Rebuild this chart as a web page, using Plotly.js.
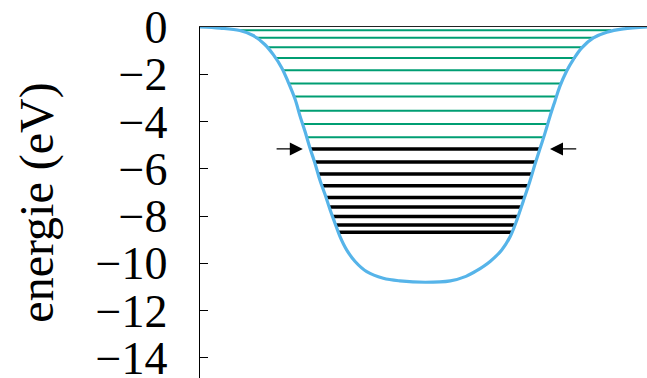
<!DOCTYPE html>
<html>
<head>
<meta charset="utf-8">
<script src="https://cdn.plot.ly/plotly-3.0.1.min.js"></script>
<style>
  html, body { margin: 0; padding: 0; background: white; overflow: hidden; }
</style>
</head>
<body>
<div id="well_plot" style="width:647px;height:378px;"></div>
<script>
// Potential well profile (position, energy in eV)
let wellX = [0.00, 0.45, 0.89, 1.19, 1.45, 1.64, 1.83, 1.98, 2.13, 2.24, 2.35, 2.46,
  2.57, 2.68, 2.80, 2.91, 3.02, 3.13, 3.28, 3.47, 3.73, 4.10, 4.47, 5.04,
  5.60, 5.95, 6.19, 6.49, 6.75, 6.94, 7.09, 7.23, 7.38, 7.49, 7.61, 7.72,
  7.83, 7.94, 8.05, 8.20, 8.35, 8.54, 8.80, 9.10, 9.47, 10.00];
let wellE = [0.00, -0.05, -0.15, -0.36, -0.74, -1.17, -1.73, -2.36, -3.07, -3.78, -4.42, -5.12,
  -5.75, -6.46, -7.10, -7.73, -8.30, -8.86, -9.43, -9.92, -10.35, -10.63, -10.74, -10.80,
  -10.74, -10.55, -10.31, -9.92, -9.43, -8.86, -8.16, -7.38, -6.53, -5.83, -5.12, -4.48,
  -3.78, -3.14, -2.51, -1.87, -1.38, -0.88, -0.46, -0.22, -0.08, 0.00];

// Empty levels (green)
let greenE = [-0.14, -0.46, -0.86, -1.31, -1.83, -2.39, -2.94, -3.54, -4.10, -4.66];
let greenLeft = [0.88, 1.24, 1.50, 1.70, 1.86, 1.99, 2.10, 2.20, 2.30, 2.39];
let greenRight = [9.20, 8.80, 8.56, 8.40, 8.22, 8.08, 7.99, 7.89, 7.79, 7.69];

// Filled levels (black)
let blackE = [-5.16, -5.71, -6.22, -6.72, -7.21, -7.62, -8.02, -8.38, -8.68];
let blackLeft = [2.47, 2.56, 2.64, 2.72, 2.82, 2.89, 2.97, 3.04, 3.10];
let blackRight = [7.61, 7.51, 7.42, 7.35, 7.25, 7.18, 7.12, 7.04, 6.99];

// Arrows pointing at the highest filled level
let arrowE = -5.16;
let arrowTips = [2.30, 7.83];
let arrowTails = [1.68, 8.45];

let yTicks = [0, -2, -4, -6, -8, -10, -12, -14];

let serif = "Liberation Serif, Times New Roman, serif";

// Turn a list of levels into one line trace with gaps between the segments
function levelTrace(energies, lefts, rights, color, width) {
  let xs = [];
  let ys = [];
  for (let i = 0; i < energies.length; i++) {
    xs.push(lefts[i], rights[i], null);
    ys.push(energies[i], energies[i], null);
  }
  return {
    x: xs,
    y: ys,
    type: "scatter",
    mode: "lines",
    line: { color: color, width: width },
    hoverinfo: "skip",
    showlegend: false
  };
}

let greenTrace = levelTrace(greenE, greenLeft, greenRight, "#009E73", 2);
let blackTrace = levelTrace(blackE, blackLeft, blackRight, "black", 3.5);

let wellTrace = {
  x: wellX,
  y: wellE,
  type: "scatter",
  mode: "lines",
  line: { color: "#56B4E9", width: 3.2, shape: "spline", smoothing: 1 },
  showlegend: false
};

let yRange = [-14.85, 0];

let arrows = arrowTips.map((tip, i) => ({
  x: tip, y: arrowE,
  ax: arrowTails[i], ay: arrowE,
  xref: "x", yref: "y", axref: "x", ayref: "y",
  text: "",
  showarrow: true,
  arrowhead: 2,
  arrowsize: 2,
  arrowwidth: 1.3,
  arrowcolor: "black",
  standoff: 0
}));

let layout = {
  width: 647,
  height: 378,
  margin: { l: 200, r: 0, t: 27, b: 0 },
  paper_bgcolor: "white",
  plot_bgcolor: "white",
  showlegend: false,
  font: { family: serif, color: "black" },
  xaxis: {
    range: [0, 10],
    side: "top",
    showline: true,
    linecolor: "#222",
    linewidth: 1,
    showgrid: false,
    zeroline: false,
    showticklabels: false,
    ticks: ""
  },
  yaxis: {
    range: yRange,
    tickmode: "array",
    tickvals: yTicks,
    ticks: "inside",
    ticklen: 8,
    tickwidth: 1,
    tickcolor: "black",
    showline: true,
    linecolor: "black",
    linewidth: 1.3,
    showgrid: false,
    zeroline: false,
    ticklabelstandoff: 22,
    ticklabeloverflow: "allow",
    tickfont: { family: serif, size: 46, color: "black" },
    title: {
      text: "energie (eV)",
      font: { family: serif, size: 48, color: "black" },
      standoff: 26
    }
  },
  yaxis2: {
    range: yRange,
    overlaying: "y",
    side: "right",
    tickmode: "array",
    tickvals: yTicks,
    ticks: "inside",
    ticklen: 3,
    tickcolor: "black",
    showline: false,
    showgrid: false,
    zeroline: false,
    showticklabels: false
  },
  annotations: arrows
};

Plotly.newPlot("well_plot", [greenTrace, blackTrace, wellTrace], layout, { staticPlot: true });
</script>
</body>
</html>
